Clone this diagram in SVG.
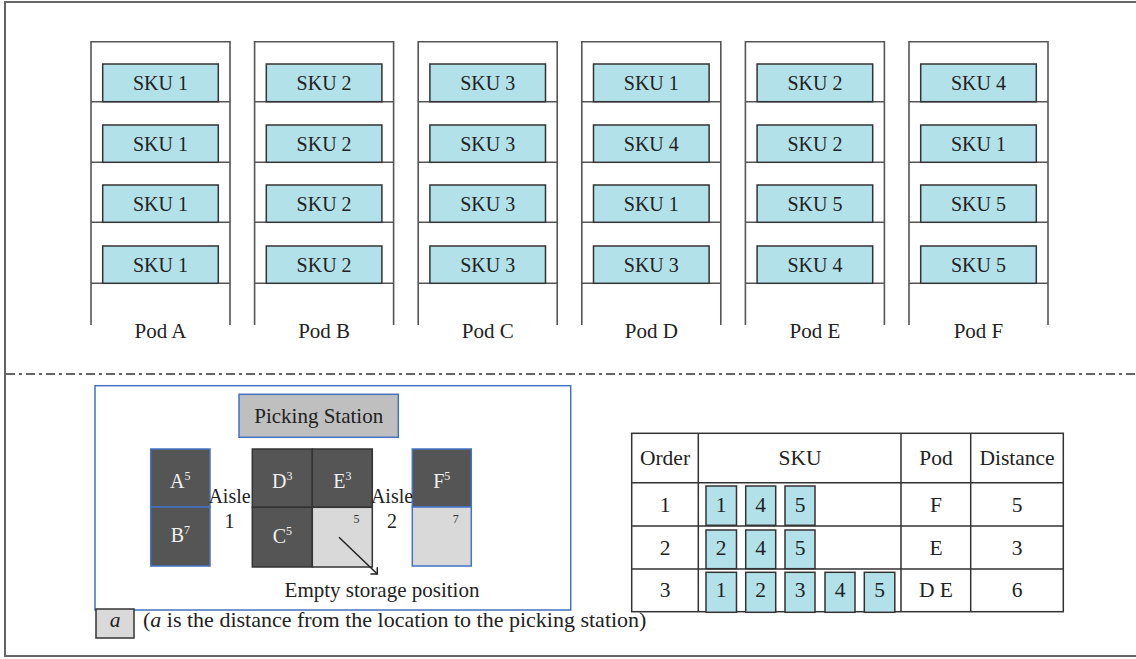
<svg xmlns="http://www.w3.org/2000/svg" width="1136" height="659" viewBox="0 0 1136 659">
<defs>
<style>
text{font-family:"Liberation Serif","Times New Roman",serif;fill:#222;}
.t{font-size:20px;text-anchor:middle;}
.tt{font-size:21.5px;text-anchor:middle;}
.pl{font-size:21px;text-anchor:middle;}
.frame{fill:none;stroke:#555;stroke-width:1.6;}
.sku{fill:#b2e1e9;stroke:#333;stroke-width:1.5;}
.dark{fill:#555555;}
.blue{stroke:#4472c4;stroke-width:1.5;}
.blk{stroke:#333;stroke-width:1.5;}
.light{fill:#d9d9d9;}
.w{fill:#f2f2f2;font-size:20px;text-anchor:middle;}
.sup{font-size:12px;}
.sm{font-size:12px;text-anchor:middle;fill:#333;}
.tb{fill:none;stroke:#333;stroke-width:1.5;}
</style>
<g id="pod-tpl">
<path class="frame" d="M0,325 V41.7 H139 V325 M0,101.7 H139 M0,162.3 H139 M0,222.3 H139 M0,283.3 H139"/>
<rect class="sku" x="11.7" y="64" width="115.6" height="37.7"/>
<rect class="sku" x="11.7" y="125" width="115.6" height="37.3"/>
<rect class="sku" x="11.7" y="185" width="115.6" height="37.3"/>
<rect class="sku" x="11.7" y="246" width="115.6" height="37.3"/>
</g>
</defs>
<rect x="5" y="2" width="1140" height="654" fill="none" stroke="#666" stroke-width="2"/>

<g id="podA" transform="translate(91,0)">
<use href="#pod-tpl"/>
<text class="t" x="69.5" y="89.5">SKU 1</text><text class="t" x="69.5" y="150.5">SKU 1</text><text class="t" x="69.5" y="210.5">SKU 1</text><text class="t" x="69.5" y="271.5">SKU 1</text>
<text class="pl" x="69.5" y="338">Pod A</text>
</g>
<g id="podB" transform="translate(254.6,0)">
<use href="#pod-tpl"/>
<text class="t" x="69.5" y="89.5">SKU 2</text><text class="t" x="69.5" y="150.5">SKU 2</text><text class="t" x="69.5" y="210.5">SKU 2</text><text class="t" x="69.5" y="271.5">SKU 2</text>
<text class="pl" x="69.5" y="338">Pod B</text>
</g>
<g id="podC" transform="translate(418.2,0)">
<use href="#pod-tpl"/>
<text class="t" x="69.5" y="89.5">SKU 3</text><text class="t" x="69.5" y="150.5">SKU 3</text><text class="t" x="69.5" y="210.5">SKU 3</text><text class="t" x="69.5" y="271.5">SKU 3</text>
<text class="pl" x="69.5" y="338">Pod C</text>
</g>
<g id="podD" transform="translate(581.8,0)">
<use href="#pod-tpl"/>
<text class="t" x="69.5" y="89.5">SKU 1</text><text class="t" x="69.5" y="150.5">SKU 4</text><text class="t" x="69.5" y="210.5">SKU 1</text><text class="t" x="69.5" y="271.5">SKU 3</text>
<text class="pl" x="69.5" y="338">Pod D</text>
</g>
<g id="podE" transform="translate(745.4,0)">
<use href="#pod-tpl"/>
<text class="t" x="69.5" y="89.5">SKU 2</text><text class="t" x="69.5" y="150.5">SKU 2</text><text class="t" x="69.5" y="210.5">SKU 5</text><text class="t" x="69.5" y="271.5">SKU 4</text>
<text class="pl" x="69.5" y="338">Pod E</text>
</g>
<g id="podF" transform="translate(909,0)">
<use href="#pod-tpl"/>
<text class="t" x="69.5" y="89.5">SKU 4</text><text class="t" x="69.5" y="150.5">SKU 1</text><text class="t" x="69.5" y="210.5">SKU 5</text><text class="t" x="69.5" y="271.5">SKU 5</text>
<text class="pl" x="69.5" y="338">Pod F</text>
</g>

<line x1="6" y1="374" x2="1136" y2="374" stroke="#333" stroke-width="1.5" stroke-dasharray="9 4 3 4"/>

<g id="layout">
<rect x="95" y="385.7" width="475.7" height="224.3" fill="none" class="blue"/>
</g>
<g id="picking-station">
<rect x="239" y="394.3" width="159.3" height="43" fill="#bfbfbf" class="blue"/>
<text class="pl" x="318.7" y="422.5">Picking Station</text>
</g>
<g id="slotA"><rect x="150.7" y="449" width="59.3" height="58" class="dark blue"/><text class="w" x="180.3" y="488">A<tspan class="sup" dy="-8">5</tspan></text></g>
<g id="slotB"><rect x="150.7" y="507" width="59.3" height="59" class="dark blue"/><text class="w" x="180.3" y="542">B<tspan class="sup" dy="-8">7</tspan></text></g>
<g id="slotD"><rect x="252.3" y="449" width="60" height="58.3" class="dark blk"/><text class="w" x="282.3" y="488">D<tspan class="sup" dy="-8">3</tspan></text></g>
<g id="slotE"><rect x="312.3" y="449" width="60" height="58.3" class="dark blk"/><text class="w" x="342.3" y="488">E<tspan class="sup" dy="-8">3</tspan></text></g>
<g id="slotC"><rect x="252.3" y="507.3" width="60" height="59.7" class="dark blk"/><text class="w" x="282.3" y="543">C<tspan class="sup" dy="-8">5</tspan></text></g>
<g id="slotEmpty1"><rect x="312.3" y="507.3" width="60" height="59.7" class="light blk"/><text class="sm" x="356.5" y="523">5</text></g>
<g id="slotF"><rect x="412.3" y="449" width="59" height="58" class="dark blue"/><text class="w" x="441.8" y="488">F<tspan class="sup" dy="-8">5</tspan></text></g>
<g id="slotEmpty2"><rect x="412.3" y="507" width="59" height="59" class="light blue"/><text class="sm" x="455.7" y="523">7</text></g>
<g id="aisle1"><text class="t" x="229.5" y="503">Aisle</text><text class="t" x="229.5" y="528">1</text></g>
<g id="aisle2"><text class="t" x="392" y="503">Aisle</text><text class="t" x="392" y="528">2</text></g>
<g id="empty-label"><text class="pl" x="382" y="597">Empty storage position</text></g>

<g id="connectors">
<line x1="339" y1="537.3" x2="377.3" y2="574" stroke="#222" stroke-width="1.5"/>
<polyline points="370.5,574 377.3,574 377.3,567.2" fill="none" stroke="#222" stroke-width="1.5"/>
</g>

<g id="legend">
<rect x="96" y="609" width="38" height="29" class="light blk"/>
<text class="tt" x="115" y="627" font-style="italic">a</text>
<text x="143" y="627" font-size="22">(<tspan font-style="italic">a</tspan> is the distance from the location to the picking station)</text>
</g>

<g id="table">
<rect class="tb" x="631.7" y="433.3" width="431.6" height="178.4"/>
<path class="tb" d="M698.3,433.3 V611.7 M901,433.3 V611.7 M970.7,433.3 V611.7 M631.7,482.7 H1063.3 M631.7,526 H1063.3 M631.7,569 H1063.3"/>
<text class="tt" x="665" y="465">Order</text>
<text class="tt" x="800" y="465">SKU</text>
<text class="tt" x="936" y="465">Pod</text>
<text class="tt" x="1017" y="465">Distance</text>
<text class="tt" x="665" y="511.5">1</text>
<text class="tt" x="665" y="555">2</text>
<text class="tt" x="665" y="597">3</text>
<text class="tt" x="936" y="511.5">F</text>
<text class="tt" x="936" y="555">E</text>
<text class="tt" x="936" y="597">D E</text>
<text class="tt" x="1017" y="511.5">5</text>
<text class="tt" x="1017" y="555">3</text>
<text class="tt" x="1017" y="597">6</text>
<g id="row1-skus">
<rect class="sku" x="706" y="486" width="30.5" height="39.3"/><text class="tt" x="721.2" y="511.5">1</text>
<rect class="sku" x="745.7" y="486" width="30" height="39.3"/><text class="tt" x="760.7" y="511.5">4</text>
<rect class="sku" x="785" y="486" width="30" height="39.3"/><text class="tt" x="800" y="511.5">5</text>
</g>
<g id="row2-skus">
<rect class="sku" x="706" y="530" width="30.5" height="38.7"/><text class="tt" x="721.2" y="555">2</text>
<rect class="sku" x="745.7" y="530" width="30" height="38.7"/><text class="tt" x="760.7" y="555">4</text>
<rect class="sku" x="785" y="530" width="30" height="38.7"/><text class="tt" x="800" y="555">5</text>
</g>
<g id="row3-skus">
<rect class="sku" x="706" y="572.3" width="30.5" height="40"/><text class="tt" x="721.2" y="597">1</text>
<rect class="sku" x="745.7" y="572.3" width="30" height="40"/><text class="tt" x="760.7" y="597">2</text>
<rect class="sku" x="785" y="572.3" width="30" height="40"/><text class="tt" x="800" y="597">3</text>
<rect class="sku" x="825" y="572.3" width="30" height="40"/><text class="tt" x="840" y="597">4</text>
<rect class="sku" x="864.3" y="572.3" width="30.5" height="40"/><text class="tt" x="879.5" y="597">5</text>
</g>
</g>
</svg>
